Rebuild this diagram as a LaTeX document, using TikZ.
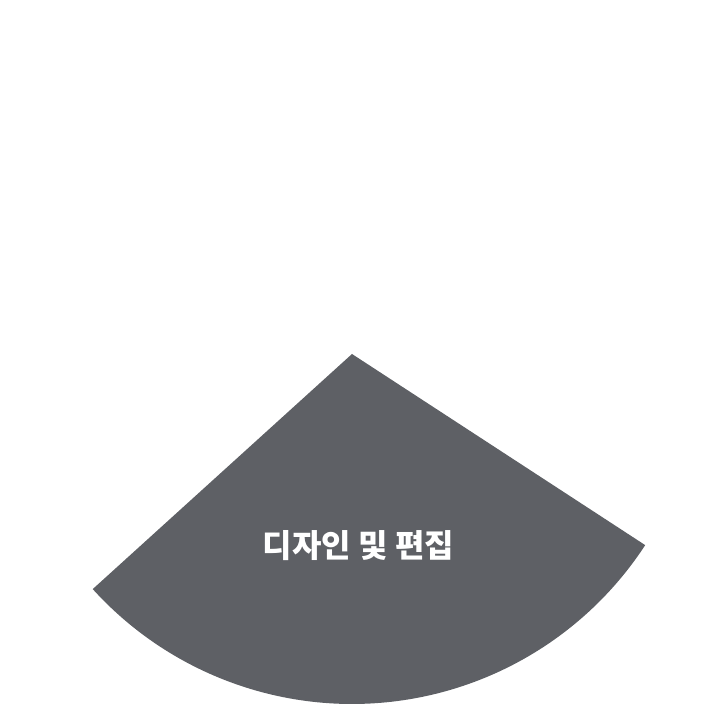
\documentclass[tikz,border=0pt]{standalone}
\usepackage{fontspec}
\newfontfamily\krfont{Noto Sans CJK KR}
\definecolor{slicegray}{HTML}{5E6065}
\begin{document}
\begin{tikzpicture}[x=1pt,y=1pt,
  slice/.style={fill=slicegray,draw=none},
  slicelabel/.style={text=white,font=\krfont\bfseries\fontsize{32}{35}\selectfont}]
\useasboundingbox (0,0) rectangle (704,704);
\coordinate (apex) at (352,350);
\fill[slice] (apex) -- ++(222.2:350) arc[start angle=222.2,end angle=326.9,radius=350] -- cycle;
\node[slicelabel] (lbl) at (358.5,158) {디자인 및 편집};
\end{tikzpicture}
\end{document}
